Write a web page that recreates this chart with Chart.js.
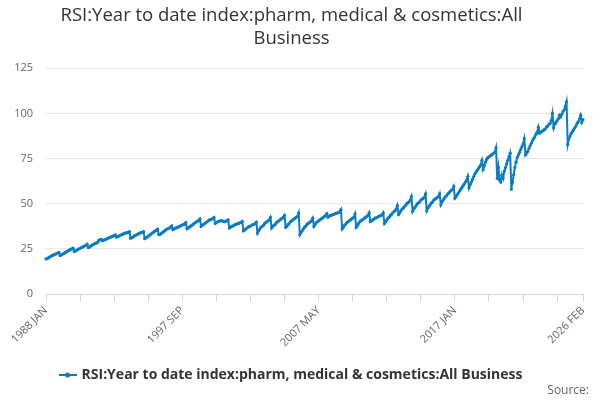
<!DOCTYPE html>
<html>
<head>
<meta charset="utf-8">
<script src="https://cdn.jsdelivr.net/npm/chart.js@4/dist/chart.umd.min.js"></script>
<style>
html,body{margin:0;padding:0;background:#fff;}
#wrap{position:relative;width:600px;height:400px;}
</style>
</head>
<body>
<div id="wrap"><canvas id="c" width="600" height="400"></canvas></div>
<script>
const monthNames = ['JAN','FEB','MAR','APR','MAY','JUN','JUL','AUG','SEP','OCT','NOV','DEC'];
const firstYear = 1988;
const lastYear = 2026;
const lastYearMonths = 2;

const v1988to1997 = [
  19.4, 19.6, 20.0, 20.4, 20.8, 21.2, 21.5, 21.8, 22.1, 22.4, 22.7, 23.0,
  21.3, 21.7, 22.0, 22.4, 22.8, 23.2, 23.6, 24.0, 24.3, 24.7, 25.0, 25.4,
  23.5, 23.8, 24.2, 24.6, 25.0, 25.3, 25.7, 26.0, 26.3, 26.7, 27.0, 27.6,
  25.7, 26.0, 26.5, 27.0, 27.3, 27.7, 28.0, 28.3, 28.6, 29.8, 30.0, 30.3,
  29.5, 29.8, 30.0, 30.3, 30.6, 31.0, 31.2, 31.5, 31.8, 32.0, 32.3, 32.8,
  31.5, 31.8, 32.0, 32.4, 32.8, 33.0, 33.3, 33.6, 33.8, 34.0, 34.2, 34.6,
  30.9, 31.2, 31.5, 32.0, 32.5, 32.8, 33.0, 33.5, 33.8, 34.0, 34.2, 34.6,
  30.6, 31.0, 31.5, 32.0, 32.5, 33.0, 33.5, 34.0, 34.5, 35.0, 35.2, 35.9,
  32.8, 33.0, 33.5, 34.0, 34.5, 35.0, 35.5, 36.0, 36.2, 36.5, 37.0, 37.8,
  35.6, 36.0, 36.5, 36.6, 37.0, 37.2, 37.5, 38.0, 38.2, 38.5, 38.7, 39.5
];
const v1998to2007 = [
  36.1, 36.5, 37.0, 37.5, 38.0, 38.5, 39.0, 39.5, 40.0, 40.3, 40.8, 41.6,
  37.4, 38.0, 38.5, 39.0, 39.5, 40.0, 40.5, 41.0, 41.2, 41.5, 41.7, 42.4,
  39.0, 39.5, 40.0, 40.2, 40.5, 40.6, 40.5, 40.2, 40.0, 40.4, 40.6, 41.1,
  36.5, 37.0, 37.5, 37.6, 38.0, 38.5, 38.6, 39.0, 39.1, 39.5, 39.6, 40.2,
  35.0, 35.5, 36.0, 36.5, 37.0, 37.4, 37.6, 38.0, 38.4, 38.6, 39.0, 39.8,
  33.7, 35.0, 36.0, 37.0, 37.5, 38.0, 39.0, 39.5, 40.0, 40.5, 41.0, 42.4,
  36.5, 37.5, 38.0, 38.5, 39.5, 40.0, 40.5, 41.0, 41.5, 42.0, 42.5, 43.5,
  36.9, 37.5, 38.5, 39.0, 40.0, 40.5, 41.0, 41.5, 42.0, 42.5, 43.0, 44.8,
  32.8, 34.0, 35.0, 36.0, 37.0, 37.5, 38.5, 39.0, 39.5, 40.0, 40.5, 42.0,
  37.4, 38.5, 39.5, 40.0, 40.5, 41.0, 41.5, 42.0, 42.5, 43.0, 43.5, 44.5
];
const v2008to2017 = [
  42.5, 43.0, 43.5, 43.6, 44.0, 44.1, 44.5, 44.6, 45.0, 45.1, 45.5, 46.8,
  36.0, 37.0, 38.0, 38.5, 39.5, 40.0, 40.5, 41.0, 41.5, 42.0, 42.5, 44.4,
  36.9, 38.0, 39.0, 40.0, 40.5, 41.0, 41.5, 42.0, 42.5, 43.0, 43.5, 45.0,
  40.0, 40.5, 41.0, 41.5, 42.0, 42.2, 42.5, 43.0, 43.2, 43.5, 43.8, 45.0,
  39.0, 40.0, 41.0, 42.0, 42.5, 43.5, 44.0, 45.0, 45.5, 46.0, 47.0, 49.0,
  44.0, 45.0, 46.0, 47.0, 47.5, 48.5, 49.0, 50.0, 50.5, 51.0, 52.0, 54.0,
  45.7, 47.0, 48.0, 49.0, 50.0, 50.5, 51.0, 52.0, 52.5, 53.0, 53.5, 55.4,
  46.0, 47.5, 48.5, 49.5, 50.5, 51.0, 52.0, 52.5, 53.0, 53.5, 54.0, 55.6,
  49.4, 51.0, 52.0, 53.0, 54.0, 54.5, 55.5, 56.0, 57.0, 57.5, 58.0, 59.6,
  53.0, 54.0, 55.0, 56.0, 57.0, 58.0, 59.0, 60.0, 61.0, 62.0, 63.0, 65.2
];
const v2018to2026 = [
  58.7, 60.5, 62.0, 63.5, 65.0, 66.5, 67.5, 68.5, 69.5, 70.5, 71.5, 74.0,
  69.0, 71.0, 73.0, 74.5, 75.5, 76.0, 76.5, 77.0, 77.5, 78.0, 78.5, 81.0,
  64.0, 70.0, 63.0, 62.0, 66.0, 64.0, 68.0, 70.0, 72.0, 74.0, 76.0, 78.0,
  58.0, 62.0, 66.0, 70.0, 73.0, 75.5, 77.0, 78.5, 80.0, 81.5, 83.0, 86.0,
  77.0, 78.0, 79.0, 80.5, 82.0, 83.5, 85.0, 86.0, 87.0, 88.5, 89.5, 92.4,
  89.0, 89.5, 90.0, 90.5, 91.0, 91.5, 92.5, 93.0, 94.0, 94.5, 96.0, 100.0,
  92.0, 94.0, 95.0, 96.0, 97.0, 99.0, 98.0, 99.5, 101.0, 102.0, 104.0, 106.5,
  82.8, 86.0, 87.5, 89.0, 90.0, 91.0, 92.0, 93.0, 94.5, 95.5, 97.0, 99.0,
  95.0, 96.5
];
const yTicks = [0, 25, 50, 75, 100, 125];
const seriesName = 'RSI:Year to date index:pharm, medical & cosmetics:All Business';
const titleLines = ['RSI:Year to date index:pharm, medical & cosmetics:All', 'Business'];
const sourceText = 'Source:';

const labels = [];
for (let y = firstYear; y <= lastYear; y++) {
  const n = (y === lastYear) ? lastYearMonths : 12;
  for (let m = 0; m < n; m++) labels.push(y + ' ' + monthNames[m]);
}
const values = [].concat(v1988to1997, v1998to2007, v2008to2017, v2018to2026);

const minorStep = 29;
const labelStep = 116;
const blue = '#0b7cc3';

// legend marker: line with dot
const mk = document.createElement('canvas');
mk.width = 18; mk.height = 8;
const mctx = mk.getContext('2d');
mctx.strokeStyle = blue; mctx.lineWidth = 2;
mctx.beginPath(); mctx.moveTo(0, 4); mctx.lineTo(18, 4); mctx.stroke();
mctx.fillStyle = blue;
mctx.beginPath(); mctx.arc(9, 4, 2.5, 0, Math.PI * 2); mctx.fill();

const FONT = "'Open Sans', 'DejaVu Sans', sans-serif";

const sourcePlugin = {
  id: 'sourceText',
  afterDraw(chart) {
    const ctx = chart.ctx;
    ctx.save();
    ctx.font = "12px " + FONT;
    ctx.fillStyle = '#666666';
    ctx.textAlign = 'right';
    ctx.textBaseline = 'middle';
    ctx.fillText(sourceText, 589, 391);
    ctx.restore();
  }
};

new Chart(document.getElementById('c'), {
  type: 'line',
  data: {
    labels: labels,
    datasets: [{
      label: seriesName,
      data: values,
      borderColor: blue,
      backgroundColor: blue,
      borderWidth: 2,
      pointRadius: 1.6,
      pointBorderWidth: 0,
      pointBackgroundColor: blue,
      tension: 0
    }]
  },
  plugins: [sourcePlugin],
  options: {
    responsive: false,
    animation: false,
    devicePixelRatio: 1,
    layout: { padding: { left: 0, right: 17, top: 4, bottom: 8 } },
    plugins: {
      title: {
        display: true,
        text: titleLines,
        color: '#333333',
        font: { family: FONT, size: 18.5, weight: 'normal', lineHeight: 1.25 },
        padding: { top: 0, bottom: 18 }
      },
      legend: {
        display: true,
        position: 'bottom',
        labels: {
          color: '#333333',
          font: { family: FONT, size: 14, weight: 'bold' },
          usePointStyle: true,
          pointStyle: mk,
          padding: 8,
          generateLabels: function(chart) {
            return [{
              text: seriesName,
              pointStyle: mk,
              fillStyle: blue,
              strokeStyle: blue,
              lineWidth: 0,
              datasetIndex: 0,
              fontColor: '#333333'
            }];
          }
        }
      },
      tooltip: { enabled: false }
    },
    scales: {
      x: {
        type: 'category',
        offset: false,
        grid: {
          drawOnChartArea: false,
          drawTicks: true,
          tickLength: 8,
          color: '#ccd6eb'
        },
        border: { display: true, color: '#ccd6eb', width: 1 },
        ticks: {
          autoSkip: false,
          minRotation: 45,
          maxRotation: 45,
          color: '#666666',
          font: { family: FONT, size: 11 },
          padding: 2,
          callback: function(val, idx) {
            const last = labels.length - 1;
            if (idx === last || idx % labelStep === 0) return labels[idx];
            if (idx % minorStep === 0) return '';
            return null;
          }
        },
        afterFit: function(scale) { scale.height = 66; }
      },
      y: {
        min: 0,
        max: 125,
        afterBuildTicks: function(scale) { scale.ticks = yTicks.map(v => ({ value: v })); },
        grid: { color: '#e6e6e6', drawTicks: false },
        border: { display: false },
        ticks: {
          color: '#666666',
          font: { family: FONT, size: 11 },
          padding: 13
        },
        afterFit: function(scale) { scale.width = 46; }
      }
    }
  }
});
</script>
</body>
</html>
